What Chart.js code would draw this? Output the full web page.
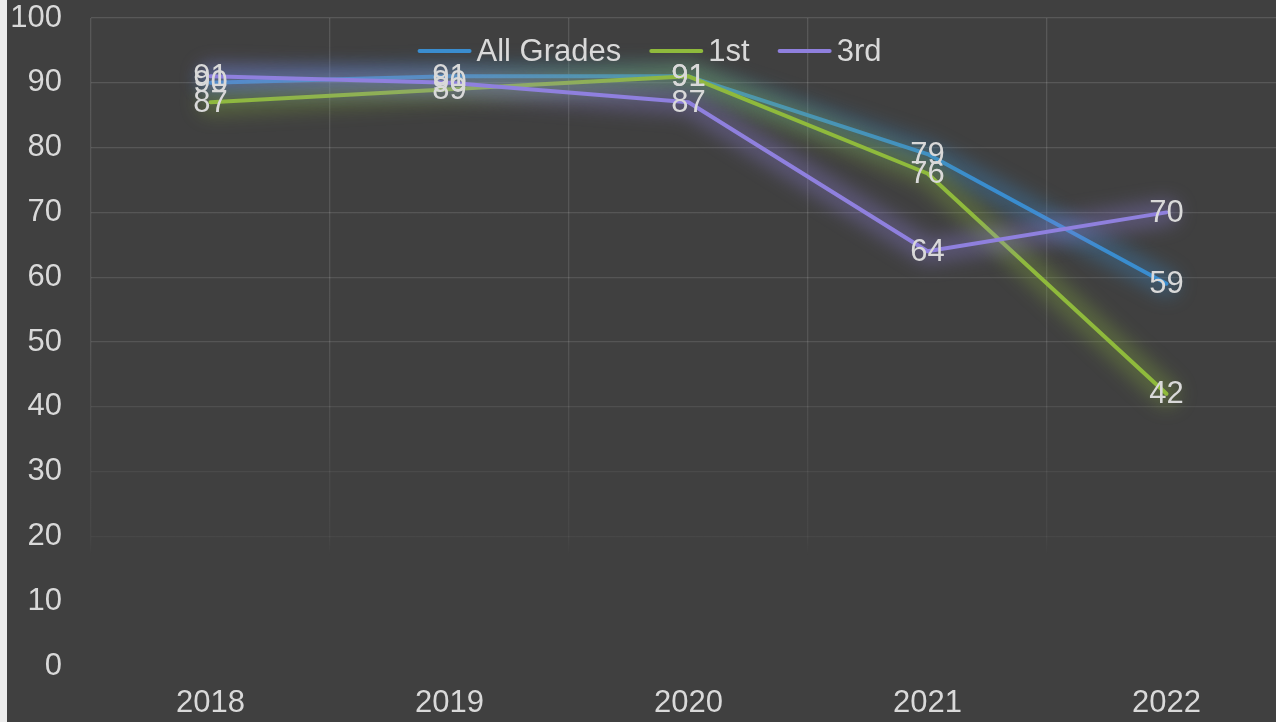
<!DOCTYPE html>
<html>
<head>
<meta charset="utf-8">
<script src="https://cdn.jsdelivr.net/npm/chart.js@4/dist/chart.umd.min.js"></script>
<style>
  html, body { margin: 0; padding: 0; width: 1276px; height: 722px; overflow: hidden; background: #ececec; }
  #wrap { position: absolute; left: 7px; top: 0; width: 1285px; height: 722px; background: #404040; }
  canvas { display: block; }
</style>
</head>
<body>
<div id="wrap"><canvas id="c" width="1285" height="722"></canvas></div>
<script>
// ---- data ----
const categories = ['2018', '2019', '2020', '2021', '2022'];
const seriesNames = ['All Grades', '1st', '3rd'];
const allGrades = [90, 91, 91, 79, 59];
const firstGrade = [87, 89, 91, 76, 42];
const thirdGrade = [91, 90, 87, 64, 70];
const yMin = 0, yMax = 100, yStep = 10;

// ---- styles ----
const colors = ['#3a8dcf', '#8fba3c', '#8f80de'];
const glows = ['rgba(58,141,207,0.33)', 'rgba(143,186,60,0.3)', 'rgba(143,128,222,0.33)'];
const textColor = '#d9d9d9';
const fontFamily = '"Liberation Sans", Arial, sans-serif';
const fontSize = 31;

function gridGradient(context) {
  const chart = context.chart;
  const area = chart.chartArea;
  if (!area) return 'rgba(255,255,255,0.12)';
  const ys = chart.scales.y;
  const g = chart.ctx.createLinearGradient(0, area.top, 0, area.bottom);
  const pos = v => Math.min(1, Math.max(0, (ys.getPixelForValue(v) - area.top) / (area.bottom - area.top)));
  g.addColorStop(0, 'rgba(255,255,255,0.13)');
  g.addColorStop(pos(50), 'rgba(255,255,255,0.11)');
  g.addColorStop(pos(30), 'rgba(255,255,255,0.055)');
  g.addColorStop(pos(20), 'rgba(255,255,255,0.04)');
  g.addColorStop(pos(17), 'rgba(255,255,255,0.0)');
  g.addColorStop(1, 'rgba(255,255,255,0.0)');
  return g;
}

// soft glow under each line, following the points placed by the scales
const glowPlugin = {
  id: 'glow',
  beforeDatasetDraw(chart, args) {
    const ctx = chart.ctx;
    const pts = args.meta.data;
    if (!pts.length) return;
    ctx.save();
    ctx.filter = 'blur(9px)';
    ctx.strokeStyle = glows[args.index];
    ctx.lineWidth = 26;
    ctx.lineJoin = 'round';
    ctx.lineCap = 'round';
    ctx.beginPath();
    pts.forEach((p, i) => { if (i === 0) ctx.moveTo(p.x, p.y); else ctx.lineTo(p.x, p.y); });
    ctx.stroke();
    ctx.restore();
  }
};

const labelPlugin = {
  id: 'valueLabels',
  afterDatasetsDraw(chart) {
    const ctx = chart.ctx;
    ctx.save();
    ctx.font = fontSize + 'px ' + fontFamily;
    ctx.fillStyle = textColor;
    ctx.textAlign = 'center';
    ctx.textBaseline = 'middle';
    chart.data.datasets.forEach((ds, di) => {
      const meta = chart.getDatasetMeta(di);
      meta.data.forEach((pt, i) => {
        ctx.fillText(String(ds.data[i]), pt.x, pt.y + 1);
      });
    });
    ctx.restore();
  }
};

const legendPlugin = {
  id: 'topLegend',
  afterDraw(chart) {
    const ctx = chart.ctx;
    ctx.save();
    ctx.font = fontSize + 'px ' + fontFamily;
    const lineLen = 54, gapText = 5, gapItem = 28;
    const widths = chart.data.datasets.map(ds => ctx.measureText(ds.label).width);
    let total = 0;
    widths.forEach((w, i) => { total += lineLen + gapText + w + (i < widths.length - 1 ? gapItem : 0); });
    let x = chart.width / 2 - total / 2;
    const y = 51;
    chart.data.datasets.forEach((ds, i) => {
      ctx.strokeStyle = ds.borderColor;
      ctx.lineWidth = 4;
      ctx.lineCap = 'round';
      ctx.beginPath();
      ctx.moveTo(x + 2, y);
      ctx.lineTo(x + lineLen - 2, y);
      ctx.stroke();
      ctx.fillStyle = textColor;
      ctx.textAlign = 'left';
      ctx.textBaseline = 'middle';
      ctx.fillText(ds.label, x + lineLen + gapText, y + 1);
      x += lineLen + gapText + widths[i] + gapItem;
    });
    ctx.restore();
  }
};

const seriesData = [allGrades, firstGrade, thirdGrade];
const orders = [2, 1, 0];

new Chart(document.getElementById('c'), {
  type: 'line',
  data: {
    labels: categories,
    datasets: seriesNames.map((name, i) => ({
      label: name,
      data: seriesData[i],
      borderColor: colors[i],
      backgroundColor: colors[i],
      borderWidth: 4,
      pointRadius: 0,
      pointHoverRadius: 0,
      tension: 0,
      fill: false,
      order: orders[i],
      borderJoinStyle: 'round',
      borderCapStyle: 'round'
    }))
  },
  options: {
    responsive: false,
    animation: false,
    events: [],
    layout: { padding: { left: 0, right: 6, top: 18, bottom: 0 } },
    plugins: {
      legend: { display: false },
      title: { display: false },
      tooltip: { enabled: false }
    },
    scales: {
      x: {
        offset: true,
        grid: { offset: true, color: gridGradient, lineWidth: 1.3, drawTicks: false },
        border: { display: false },
        ticks: { color: textColor, font: { size: fontSize, family: fontFamily }, padding: 19, maxRotation: 0 },
        afterFit(scale) { scale.height = 56; scale.paddingLeft = 0; scale.paddingRight = 0; }
      },
      y: {
        min: yMin, max: yMax,
        grid: { color: gridGradient, lineWidth: 1.3, drawTicks: false },
        border: { display: false },
        ticks: { stepSize: yStep, color: textColor, font: { size: fontSize, family: fontFamily }, padding: 29 },
        afterFit(scale) { scale.width = 84; scale.paddingTop = 0; scale.paddingBottom = 0; }
      }
    }
  },
  plugins: [glowPlugin, labelPlugin, legendPlugin]
});
</script>
</body>
</html>
